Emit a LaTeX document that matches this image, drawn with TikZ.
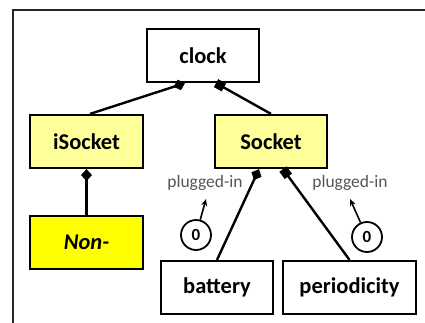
\documentclass[tikz,border=0pt]{standalone}
\usepackage{fontspec}
\setmainfont{Carlito}
\usetikzlibrary{arrows.meta}
\definecolor{lightyel}{HTML}{FFFF99}
\definecolor{strongyel}{HTML}{FFFF00}
\definecolor{labelgray}{HTML}{555555}
\begin{document}
\begin{tikzpicture}[x=1pt,y=-1pt,
  box/.style={draw=black,line width=2.2pt,minimum height=53pt,inner sep=0pt,
    font=\fontsize{22.5}{26}\selectfont\bfseries},
  conn/.style={line width=2.4pt},
  dtip/.style={{Diamond[length=12pt,width=11pt]}-},
  stip/.style={{Square[length=9pt,width=9pt]}-},
  lbl/.style={text=labelgray,font=\fontsize{17.5}{20}\selectfont,inner sep=0pt},
  zero/.style={circle,draw=black,line width=1.8pt,minimum size=30pt,inner sep=0pt,
    font=\fontsize{17}{20}\selectfont\bfseries},
  ptr/.style={line width=1.6pt,-{Stealth[length=7pt,width=6pt]}}]
\useasboundingbox (0,0) rectangle (425,322);
\draw[line width=2.2pt,draw=black!85] (13,330) -- (13,10) -- (430,10);
\node[box,minimum width=112pt] (clock) at (203,55.5) {clock};
\node[box,minimum width=113pt,fill=lightyel] (isocket) at (86.5,141.5) {iSocket};
\node[box,minimum width=112pt,fill=lightyel] (socket) at (271,141.5) {Socket};
\node[box,minimum width=113pt,fill=strongyel] (non) at (86.5,242.5) {\itshape Non-};
\node[box,minimum width=112pt] (battery) at (217,287.5) {battery};
\node[box,minimum width=133pt] (periodicity) at (349.5,287.5) {periodicity};
\draw[conn,dtip] ([xshift=-18pt]clock.south) -- ([xshift=3.5pt]isocket.north);
\draw[conn,stip] ([xshift=13pt]clock.south) -- (socket.north);
\draw[conn,dtip] (isocket.south) -- (non.north);
\draw[conn,dtip] ([xshift=-12pt]socket.south) -- (battery.north);
\draw[conn,stip] ([xshift=12pt]socket.south) -- (periodicity.north);
\node[lbl] (pl1) at (205,183) {plugged-in};
\node[lbl] (pl2) at (350,183) {plugged-in};
\node[zero] (z1) at (196,235) {0};
\node[zero] (z2) at (367,237) {0};
\coordinate (t1) at (206,199);
\coordinate (t2) at (350,199);
\draw[ptr] (z1) -- (t1);
\draw[ptr] (z2) -- (t2);
\end{tikzpicture}
\end{document}
